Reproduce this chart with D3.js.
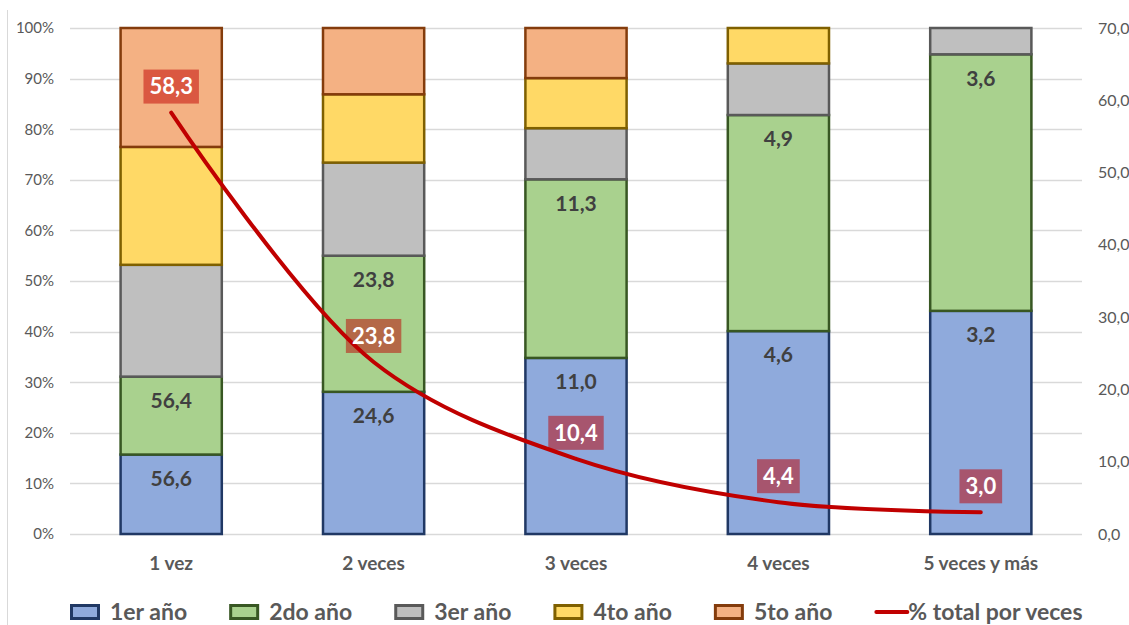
<!DOCTYPE html>
<html>
<head>
<meta charset="utf-8">
<script src="https://cdn.jsdelivr.net/npm/d3@7"></script>
<style>
	body { margin: 0; background: #fff; }
	text { font-family: Lato, "Open Sans", sans-serif; }
</style>
</head>
<body>
<div id="chart"></div>
<script>
// categories and series (percent of each column)
var categories = ["1 vez", "2 veces", "3 veces", "4 veces", "5 veces y más"];
var series = ["1er año", "2do año", "3er año", "4to año", "5to año"];
var anio1 = [15.7, 28.1, 34.8, 40.1, 44.1];
var anio2 = [15.4, 26.9, 35.3, 42.7, 50.7];
var anio3 = [22.1, 18.4, 10.1, 10.2, 5.2];
var anio4 = [23.3, 13.5, 9.9, 7.0, 0];
var anio5 = [23.5, 13.1, 9.9, 0, 0];
// labels written on the bars
var label1 = [56.6, 24.6, 11.0, 4.6, 3.2];
var label2 = [56.4, 23.8, 11.3, 4.9, 3.6];
// line on the right axis
var lineName = "% total por veces";
var totalVeces = [58.3, 23.8, 10.4, 4.4, 3.0];
var leftTicks = [0, 10, 20, 30, 40, 50, 60, 70, 80, 90, 100];
var rightTicks = [0, 10, 20, 30, 40, 50, 60, 70];

var fills = ["#8FAADC", "#A9D18E", "#BFBFBF", "#FFD966", "#F4B183"];
var strokes = ["#203864", "#385723", "#595959", "#7F6000", "#843C0C"];

var width = 1129, height = 625;
var plotLeft = 70, plotRight = 1082, plotTop = 28, plotBottom = 534;

var svg = d3.select("#chart").append("svg")
	.attr("width", width)
	.attr("height", height);

var x = d3.scaleBand().domain(categories).range([plotLeft, plotRight]).paddingInner(0.5).paddingOuter(0.25);
var y = d3.scaleLinear().domain([0, 100]).range([plotBottom, plotTop]);
var y2 = d3.scaleLinear().domain([0, 70]).range([plotBottom, plotTop]);

var comma = function(v) { return d3.format(".1f")(v).replace(".", ","); };

// border line at the far left
svg.append("line").attr("x1", 7.5).attr("x2", 7.5).attr("y1", 10).attr("y2", height)
	.attr("stroke", "#D9D9D9");

// gridlines
svg.append("g").selectAll("line")
	.data(leftTicks)
	.enter().append("line")
	.attr("x1", plotLeft).attr("x2", plotRight)
	.attr("y1", function(d) { return Math.round(y(d)) + 0.5; })
	.attr("y2", function(d) { return Math.round(y(d)) + 0.5; })
	.attr("stroke", "#D9D9D9").attr("stroke-width", 1.5);

// left axis
var yAxis = svg.append("g")
	.attr("transform", "translate(" + (plotLeft - 16) + ",0)")
	.call(d3.axisLeft(y).tickValues(leftTicks).tickSize(0).tickFormat(function(d) { return d + "%"; }));
yAxis.select(".domain").remove();
yAxis.selectAll("text").attr("fill", "#595959").style("font-size", "15px").attr("x", 0);

// right axis
var yAxis2 = svg.append("g")
	.attr("transform", "translate(" + (plotRight + 16) + ",0)")
	.call(d3.axisRight(y2).tickValues(rightTicks).tickSize(0).tickFormat(comma));
yAxis2.select(".domain").remove();
yAxis2.selectAll("text").attr("fill", "#595959").style("font-size", "16px").attr("x", 0);

// stacked bars
var rows = categories.map(function(c, i) {
	return { cat: c, s0: anio1[i], s1: anio2[i], s2: anio3[i], s3: anio4[i], s4: anio5[i] };
});
var stack = d3.stack().keys(["s0", "s1", "s2", "s3", "s4"])(rows);

var layers = svg.selectAll(".layer")
	.data(stack)
	.enter().append("g")
	.attr("class", "layer")
	.attr("fill", function(d, i) { return fills[i]; })
	.attr("stroke", function(d, i) { return strokes[i]; })
	.attr("stroke-width", 2.5);

layers.selectAll("rect")
	.data(function(d) { return d.filter(function(p) { return p[1] - p[0] > 0; }); })
	.enter().append("rect")
	.attr("x", function(d) { return x(d.data.cat); })
	.attr("width", x.bandwidth())
	.attr("y", function(d) { return y(d[1]); })
	.attr("height", function(d) { return y(d[0]) - y(d[1]); });

// bar labels (1er and 2do año)
[label1, label2].forEach(function(labels, k) {
	svg.append("g").selectAll("text")
		.data(labels)
		.enter().append("text")
		.attr("x", function(d, i) { return x(categories[i]) + x.bandwidth() / 2; })
		.attr("y", function(d, i) { return y(stack[k][i][1]) + 24; })
		.attr("dy", "0.35em")
		.attr("text-anchor", "middle")
		.attr("fill", "#404040")
		.style("font-size", "21px")
		.style("font-weight", "bold")
		.text(comma);
});

// category labels
svg.append("g").selectAll("text")
	.data(categories)
	.enter().append("text")
	.attr("x", function(d) { return x(d) + x.bandwidth() / 2; })
	.attr("y", 563)
	.attr("dy", "0.35em")
	.attr("text-anchor", "middle")
	.attr("fill", "#595959")
	.style("font-size", "19px")
	.style("font-weight", "bold")
	.text(function(d) { return d; });

// line
var line = d3.line()
	.x(function(d, i) { return x(categories[i]) + x.bandwidth() / 2; })
	.y(function(d) { return y2(d); })
	.curve(d3.curveCatmullRom.alpha(0.5));

svg.append("path")
	.datum(totalVeces)
	.attr("d", line)
	.attr("fill", "none")
	.attr("stroke", "#C00000")
	.attr("stroke-width", 4)
	.attr("stroke-linecap", "round");

// line labels
var lab = svg.append("g").selectAll("g")
	.data(totalVeces)
	.enter().append("g")
	.attr("transform", function(d, i) {
		return "translate(" + (x(categories[i]) + x.bandwidth() / 2) + "," + (y2(d) - 26) + ")";
	});
lab.append("text")
	.attr("text-anchor", "middle")
	.attr("dy", "0.35em")
	.attr("fill", "#fff")
	.style("font-size", "22px")
	.style("font-weight", "bold")
	.text(comma);
lab.insert("rect", "text")
	.each(function() {
		var w = this.parentNode.querySelector("text").getComputedTextLength() + 12;
		d3.select(this).attr("x", -w / 2).attr("width", w);
	})
	.attr("y", -17).attr("height", 34)
	.attr("fill", "#C00000").attr("fill-opacity", 0.5);

// legend
var legend = svg.append("g").attr("transform", "translate(70,612)");
var lx = 0;
series.forEach(function(s, i) {
	legend.append("rect")
		.attr("x", lx + 1.5).attr("y", -6.5).attr("width", 27).attr("height", 13)
		.attr("fill", fills[i]).attr("stroke", strokes[i]).attr("stroke-width", 3);
	var t = legend.append("text")
		.attr("x", lx + 40).attr("dy", "0.35em")
		.attr("fill", "#595959").style("font-size", "23px").style("font-weight", "bold")
		.text(s);
	lx += 40 + t.node().getComputedTextLength() + 42;
});
legend.append("line")
	.attr("x1", lx + 2).attr("x2", lx + 33).attr("y1", 0).attr("y2", 0)
	.attr("stroke", "#C00000").attr("stroke-width", 4).attr("stroke-linecap", "round");
legend.append("text")
	.attr("x", lx + 34).attr("dy", "0.35em")
	.attr("fill", "#595959").style("font-size", "23px").style("font-weight", "bold")
	.text(lineName);
</script>
</body>
</html>
